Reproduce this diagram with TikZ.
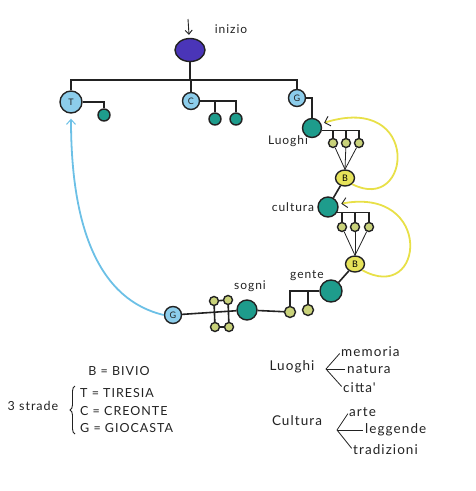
\documentclass[tikz,border=0pt]{standalone}
\usepackage{fontspec}
\setmainfont{Lato}
\newfontfamily\handfont[LetterSpace=8.0]{Lato}
\usepackage{tikz}
\usetikzlibrary{arrows.meta,shapes.geometric,decorations.pathreplacing}
\definecolor{ink}{HTML}{222222}
\definecolor{startPurple}{HTML}{4A35B8}
\definecolor{roadBlue}{HTML}{8CCDEB}
\definecolor{stopTeal}{HTML}{1E9C8C}
\definecolor{leafGreen}{HTML}{C9D27A}
\definecolor{forkYellow}{HTML}{E6E35A}
\definecolor{loopYellow}{HTML}{E8E048}
\definecolor{backBlue}{HTML}{6CC0E6}
\newcommand{\lbfont}{\fontsize{12}{14}\selectfont\handfont}
\newcommand{\lgfont}{\fontsize{12.5}{15}\selectfont\handfont}
\newcommand{\kyfont}{\fontsize{13.5}{16}\selectfont\handfont}

\begin{document}
\begin{tikzpicture}[x=1pt,y=-1pt,
    dot/.style={circle,draw=ink,line width=1.4pt,fill=#1,inner sep=0pt,text=ink},
    road/.style={dot=roadBlue,minimum size=17pt,font=\fontsize{9}{9}\selectfont},
    stopbig/.style={dot=stopTeal,minimum size=19pt},
    stopsmall/.style={dot=stopTeal,minimum size=12pt},
    leaf/.style={dot=leafGreen,minimum size=9pt},
    fork/.style={ellipse,draw=ink,line width=1.4pt,fill=forkYellow,inner sep=0pt,
                 minimum width=19pt,minimum height=16pt,font=\fontsize{9}{9}\selectfont},
    wire/.style={draw=ink,line width=1.6pt},
    spoke/.style={draw=ink,line width=0.8pt},
    flow/.style={-{Straight Barb[length=4pt,width=7pt]},line width=0.9pt,draw=ink},
    loopback/.style={draw=loopYellow,line width=1.8pt,shorten >=3pt,
                     -{Straight Barb[length=5pt,width=10pt,color=ink,line width=0.9pt]}},
    backflow/.style={draw=backBlue,line width=1.8pt,shorten >=5pt,
                     -{Straight Barb[length=5pt,width=9pt,line width=1pt]}},
    lbl/.style={text=ink,inner sep=0pt,font=\lbfont},
    legend/.style={text=ink,inner sep=0pt,font=\lgfont},
    keyword/.style={text=ink,inner sep=0pt,font=\kyfont}]

\useasboundingbox (0,0) rectangle (475,491);

% ======================= start and the three roads ====================================
\coordinate (in) at (188,19);
\node[dot=startPurple,ellipse,minimum width=30pt,minimum height=23pt] (root) at (190,50) {};
\node[lbl] (inizio) at (231,29) {inizio};
\draw[flow,shorten >=3pt] (in) -- (root);

\node[road,minimum size=22pt] (T) at (71,102) {T};
\node[road] (C) at (191,101) {C};
\node[road] (G) at (297,98) {G};
\coordinate (bar) at (190,80);
\draw[wire] (root) -- (bar);
\draw[wire] (T) |- (bar) -| (G);
\draw[wire] (C) -- (C |- bar);

% ======================= short branches of T and C ====================================
\node[stopsmall] (t1) at (104,115) {};
\node[stopsmall] (c1) at (215,119) {};
\node[stopsmall] (c2) at (236,119) {};
\draw[wire] (T) -| (t1);
\draw[wire] (C) -| (c2);
\draw[wire] (C -| c1) -- (c1);

% ======================= G road: luoghi, cultura, gente ===============================
\node[stopbig] (luoghi) at (312,128) {};
\node[lbl] (luoghiLab) at (288,141) {Luoghi};
\draw[wire] (G) -| (luoghi);
\node[leaf] (l1) at (333,143) {};
\node[leaf] (l2) at (346,143) {};
\node[leaf] (l3) at (359,143) {};
\draw[wire] (luoghi.-15) -| (l3);
\draw[wire] (luoghi.-15 -| l1) -- (l1);
\draw[wire] (luoghi.-15 -| l2) -- (l2);
\node[fork] (B1) at (345,178) {B};
\foreach \n in {l1,l2,l3} \draw[spoke] (\n) -- (B1.north);

\node[stopbig,minimum size=20pt] (cultura) at (328,207) {};
\node[lbl] (culturaLab) at (293,207) {cultura};
\draw[wire] (B1) -- (cultura);
\node[leaf] (k1) at (342,227) {};
\node[leaf] (k2) at (355,227) {};
\node[leaf] (k3) at (369,227) {};
\draw[wire] (cultura.-30) -| (k3);
\draw[wire] (cultura.-30 -| k1) -- (k1);
\draw[wire] (cultura.-30 -| k2) -- (k2);
\node[fork] (B2) at (355,264) {B};
\foreach \n in {k1,k2,k3} \draw[spoke] (\n) -- (B2.north);

\node[stopbig,minimum size=22pt] (gente) at (331,291) {};
\node[lbl] (genteLab) at (307,276) {gente};
\draw[wire] (B2) -- (gente);
\node[leaf,minimum size=11pt] (n1) at (290,312) {};
\node[leaf,minimum size=11pt] (n2) at (308,310) {};
\draw[wire] (gente) -| (n1);
\draw[wire] (gente -| n2) -- (n2);

% ======================= sogni and the way back to G ==================================
\node[stopbig,minimum size=20pt] (sogni) at (247,310) {};
\node[lbl] (sogniLab) at (250,286) {sogni};
\node[road] (Gback) at (173,315) {G};
\draw[wire] (Gback) -- (sogni) -- (n1);
\node[leaf] (s1) at (214,301) {};
\node[leaf] (s2) at (228,300) {};
\node[leaf] (s3) at (215,327) {};
\node[leaf] (s4) at (229,327) {};
\draw[wire] (s1) -- (s2) (s3) -- (s4) (s1) -- (s3) (s2) -- (s4);

% ======================= loops back from the forks ====================================
\draw[loopback] (B1.south east) .. controls (412,215) and (422,92) .. (luoghi.25);
\draw[loopback] (B2.south east) .. controls (425,305) and (434,186) .. (cultura.15);
\draw[backflow] (Gback.west) .. controls (100,300) and (71,230) .. (T.south);

% ======================= legend ========================================================
\node[legend] (bivio) at (119,371) {B = BIVIO};
\node[legend,anchor=west] (tiresia)  at (80,393) {T = TIRESIA};
\node[legend,anchor=west] (creonte)  at (80,411) {C = CREONTE};
\node[legend,anchor=west] (giocasta) at (80,428) {G = GIOCASTA};
\node[legend] (strade) at (33,406) {3 strade};
\draw[ink,line width=0.9pt,decorate,decoration={brace,amplitude=5pt}]
  (75,434) -- (75,386);

\node[keyword] (luoghiKey) at (292,367) {Luoghi};
\coordinate (fanL) at (326,369);
\node[keyword,anchor=west] (memoria) at (341,352) {memoria};
\node[keyword,anchor=west] (natura)  at (347,369) {natura};
\node[keyword,anchor=west] (citta)   at (343,388) {citta'};
\foreach \w in {memoria,natura,citta} \draw[spoke,shorten >=2pt] (fanL) -- (\w.west);

\node[keyword] (culturaKey) at (297,421) {Cultura};
\coordinate (fanC) at (337,430);
\node[keyword,anchor=west] (arte)       at (349,412) {arte};
\node[keyword,anchor=west] (leggende)   at (365,430) {leggende};
\node[keyword,anchor=west] (tradizioni) at (353,450) {tradizioni};
\foreach \w in {arte,leggende,tradizioni} \draw[spoke,shorten >=2pt] (fanC) -- (\w.west);

\end{tikzpicture}
\end{document}
